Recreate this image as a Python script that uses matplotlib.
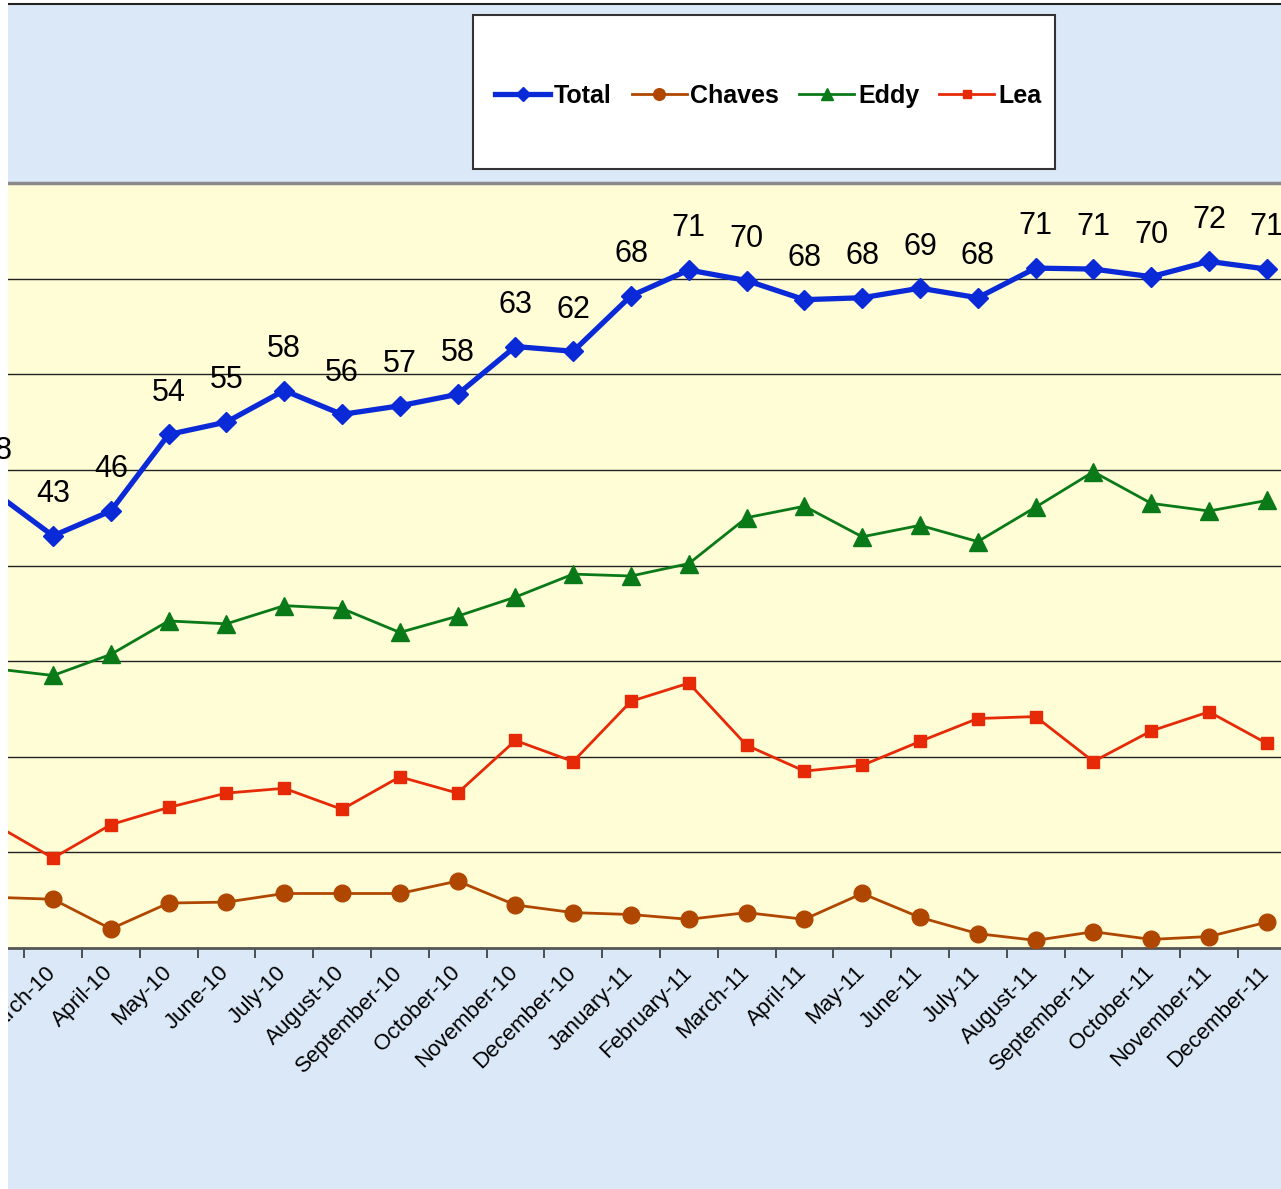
import matplotlib.pyplot as plt
from matplotlib.patches import Rectangle
from matplotlib.lines import Line2D

plt.rcParams['font.family'] = ['Liberation Sans', 'DejaVu Sans']

months = ['February-10', 'March-10', 'April-10', 'May-10', 'June-10', 'July-10',
          'August-10', 'September-10', 'October-10', 'November-10', 'December-10',
          'January-11', 'February-11', 'March-11', 'April-11', 'May-11', 'June-11',
          'July-11', 'August-11', 'September-11', 'October-11', 'November-11',
          'December-11']
total = [47.6, 43.1, 45.7, 53.7, 55.0, 58.3, 55.8, 56.7, 57.9, 62.9, 62.4, 68.2,
         70.9, 69.8, 67.8, 68.0, 69.0, 68.0, 71.1, 71.0, 70.2, 71.8, 71.0]
chaves = [5.3, 5.1, 2.0, 4.7, 4.8, 5.7, 5.7, 5.7, 7.0, 4.5, 3.7, 3.5,
          3.0, 3.7, 3.0, 5.7, 3.2, 1.5, 0.8, 1.7, 0.9, 1.2, 2.7]
eddy = [29.2, 28.5, 30.7, 34.2, 33.9, 35.8, 35.5, 33.0, 34.7, 36.7, 39.1, 38.9,
        40.2, 45.0, 46.2, 43.0, 44.2, 42.5, 46.1, 49.8, 46.5, 45.7, 46.8]
lea = [12.9, 9.4, 12.9, 14.7, 16.2, 16.7, 14.5, 17.9, 16.2, 21.7, 19.5, 25.8,
       27.7, 21.2, 18.5, 19.1, 21.6, 24.0, 24.2, 19.5, 22.7, 24.7, 21.4]

W, H = 1281, 1189
fig = plt.figure(figsize=(W / 100, H / 100), dpi=100)
fig.patch.set_facecolor('white')

# light blue page background
fig.patches.append(Rectangle((8 / W, 0), 1 - 8 / W, (H - 4) / H, transform=fig.transFigure,
                             facecolor='#dbe8f7', edgecolor='none', zorder=-5))
fig.lines.append(Line2D([8 / W, 1], [(H - 4) / H] * 2, transform=fig.transFigure,
                        color='#222222', lw=1.5, zorder=-4))

# plot area runs past both image edges (chart is cropped)
ax = fig.add_axes([-33.7 / W, (H - 948) / H, 1329.4 / W, 765 / H])
ax.set_facecolor('#fffdd6')
x = list(range(len(months)))

ax.plot(x, chaves, color='#b04700', lw=2, marker='o', ms=12, label='Chaves', zorder=3)
ax.plot(x, eddy, color='#0a7a18', lw=2, marker='^', ms=12.5, label='Eddy', zorder=3)
ax.plot(x, lea, color='#e62a08', lw=2, marker='s', ms=8, label='Lea', zorder=3)
ax.plot(x, total, color='#0a2ad8', lw=3.8, marker='D', ms=10, label='Total', zorder=4)

for xi, v in zip(x, total):
    ax.annotate(f'{v:.0f}', (xi, v), xytext=(0, 30), textcoords='offset points',
                ha='center', va='center', fontsize=22, annotation_clip=False, zorder=7)

ax.set_xlim(-0.5, len(months) - 0.5)
ax.set_ylim(0, 80)
ax.set_yticks(range(10, 80, 10))
ax.yaxis.grid(True, color='#222222', lw=1)
ax.tick_params(axis='y', left=False, labelleft=False)

# labels sit a little left of each category, marks on the category boundaries
ax.set_xticks([i - 0.14 for i in x])
ax.set_xticklabels(months, rotation=45, ha='right', rotation_mode='anchor', fontsize=16)
ax.set_xticks([i + 0.5 for i in x[:-1]], minor=True)
ax.tick_params(axis='x', which='major', length=0, pad=10)
ax.tick_params(axis='x', which='minor', length=7, width=1.2, color='#333333', direction='out')

for s in ['left', 'right']:
    ax.spines[s].set_visible(False)
ax.spines['top'].set_color('#8a8a8a')
ax.spines['top'].set_linewidth(2.5)
ax.spines['bottom'].set_color('#555555')
ax.spines['bottom'].set_linewidth(2)

# white strip on the left edge of the crop (the value labels sit above it)
ax.add_patch(Rectangle((0, 0), 8 / W, 1, transform=fig.transFigure, clip_on=False,
                       facecolor='white', edgecolor='none', zorder=6))

# legend box
fig.patches.append(Rectangle((473 / W, (H - 169) / H), 582 / W, 154 / H,
                             transform=fig.transFigure, facecolor='white',
                             edgecolor='#333333', lw=1.5, zorder=5))
handles, labels = ax.get_legend_handles_labels()
order = [3, 0, 1, 2]
leg = fig.legend([handles[i] for i in order], [labels[i] for i in order],
                 loc='center', bbox_to_anchor=(768 / W, (H - 96) / H), ncol=4,
                 frameon=False, markerscale=0.7, handlelength=2.2, handletextpad=0.15,
                 columnspacing=0.8, prop={'weight': 'bold', 'size': 18})
leg.set_zorder(6)

fig.savefig('out.png', dpi=100)
